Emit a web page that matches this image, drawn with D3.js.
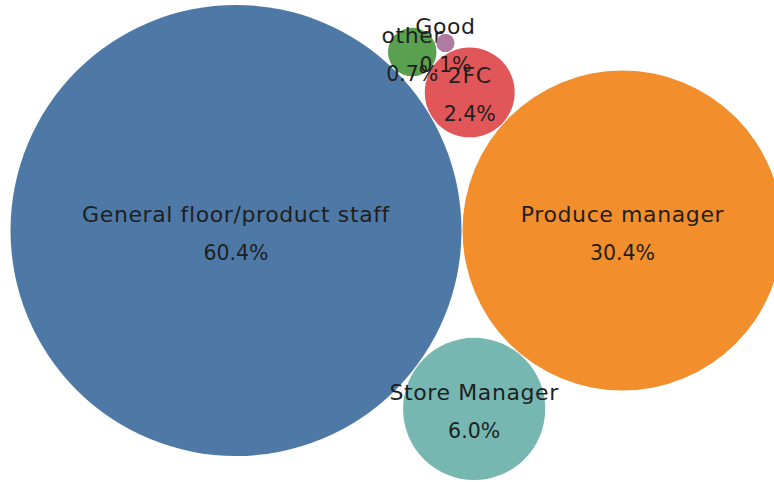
<!DOCTYPE html>
<html>
<head>
<meta charset="utf-8">
<script src="https://cdn.jsdelivr.net/npm/d3@7"></script>
<style>
  html, body { margin: 0; padding: 0; background: #fff; }
  svg { display: block; }
  text { font-family: "DejaVu Sans", sans-serif; fill: #1f1f1f; }
</style>
</head>
<body>
<svg id="chart" width="774" height="482"></svg>
<script>
// Share of respondents by role
const categories = ["General floor/product staff", "Produce manager", "2FC", "Store Manager", "other", "Good"];
const shares = [60.4, 30.4, 2.4, 6.0, 0.7, 0.1];
const palette = ["#4e79a7", "#f28e2b", "#e15759", "#76b7b2", "#59a14f", "#b07aa1"];

const width = 774, height = 482;
const pad = 1;
const svg = d3.select("#chart");

const color = d3.scaleOrdinal().domain(categories).range(palette);

const root = d3.hierarchy({ children: categories.map((c, i) => ({ name: c, value: shares[i] })) })
  .sum(d => d.value || 0)
  .sort((a, b) => b.value - a.value);

// Pack everything except the tiniest bubble, then tuck that one into the
// notch between "other" and "2FC" at the top of the cluster.
d3.pack().size([width, width]).padding(pad)(root);

const leaves = root.leaves();
const byName = new Map(leaves.map(d => [d.data.name, d]));
const tiny = leaves[leaves.length - 1];
const A = byName.get("other"), B = byName.get("2FC");
{
  // recompute the tiny bubble's position as tangent to A and B
  const dx = B.x - A.x, dy = B.y - A.y, d = Math.hypot(dx, dy);
  const ra = A.r + tiny.r + pad, rb = B.r + tiny.r + pad;
  const along = (ra * ra - rb * rb + d * d) / (2 * d);
  const h = Math.sqrt(Math.max(0, ra * ra - along * along));
  const ux = dx / d, uy = dy / d;
  const px = A.x + along * ux, py = A.y + along * uy;
  const cands = [[px - h * uy, py + h * ux], [px + h * uy, py - h * ux]];
  const best = cands.reduce((m, c) =>
    Math.hypot(c[0] - root.x, c[1] - root.y) > Math.hypot(m[0] - root.x, m[1] - root.y) ? c : m);
  tiny.x = best[0];
  tiny.y = best[1];
}

const g = svg.append("g").attr("transform", `translate(9.5, ${-156.5})`);

const node = g.selectAll("g.node")
  .data(leaves)
  .join("g")
  .attr("class", "node")
  .attr("transform", d => `translate(${d.x},${d.y})`);

node.append("circle")
  .attr("r", d => d.r)
  .attr("fill", d => color(d.data.name));

node.append("text")
  .attr("text-anchor", "middle")
  .attr("y", -9)
  .attr("font-size", 22)
  .attr("letter-spacing", 0.6)
  .text(d => d.data.name);

node.append("text")
  .attr("text-anchor", "middle")
  .attr("y", 29)
  .attr("font-size", 20.5)
  .text(d => d3.format(".1f")(d.data.value) + "%");
</script>
</body>
</html>
